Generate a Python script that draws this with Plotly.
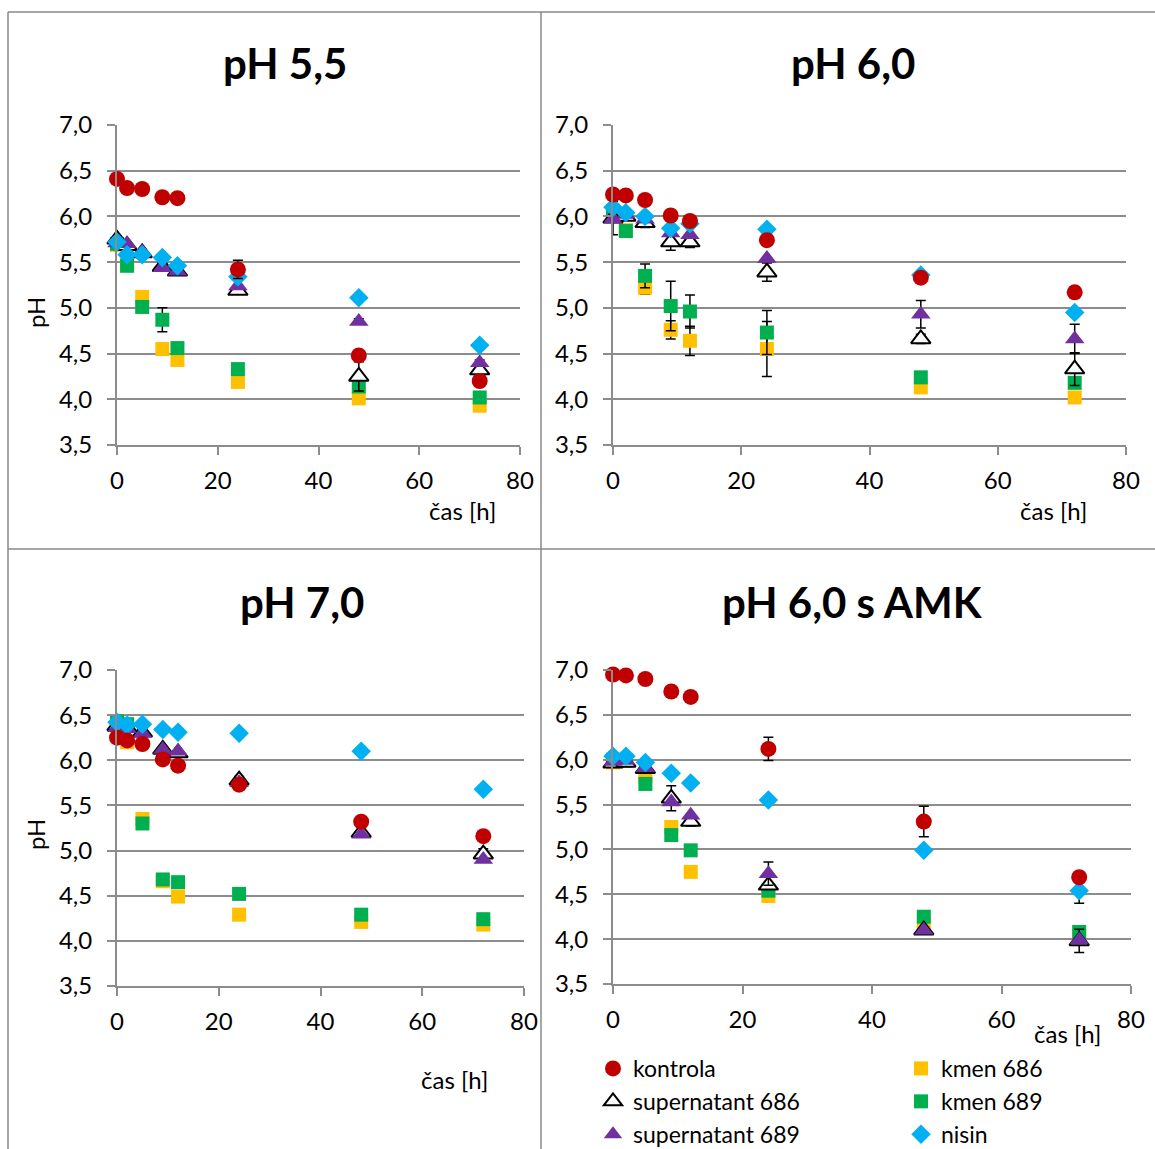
import plotly.graph_objects as go

W, H = 1155, 1149

time_h = [0, 2, 5, 9, 12, 24, 48, 72]

series_names = ["kontrola", "supernatant 686", "supernatant 689", "kmen 686", "kmen 689", "nisin"]
panel_titles = ["pH 5,5", "pH 6,0", "pH 7,0", "pH 6,0 s AMK"]
y_ticks = [3.5, 4.0, 4.5, 5.0, 5.5, 6.0, 6.5, 7.0]
x_ticks = [0, 20, 40, 60, 80]

# ---- pH 5,5 ----
p55_kontrola = [6.41, 6.31, 6.30, 6.21, 6.20, 5.42, 4.48, 4.20]
p55_sup686 = [5.75, 5.68, 5.60, 5.45, 5.40, 5.19, 4.25, 4.32]
p55_sup689 = [5.71, 5.70, 5.61, 5.44, 5.40, 5.24, 4.85, 4.40]
p55_kmen686 = [5.69, 5.50, 5.12, 4.55, 4.43, 4.19, 4.01, 3.93]
p55_kmen689 = [5.70, 5.46, 5.01, 4.87, 4.56, 4.33, 4.14, 4.02]
p55_nisin = [5.72, 5.58, 5.58, 5.55, 5.46, 5.34, 5.11, 4.59]
p55_kontrola_err = [0, 0, 0.04, 0, 0, 0.10, 0, 0.04]
p55_sup686_err = [0.04, 0, 0, 0.04, 0.04, 0.04, 0.16, 0.05]
p55_sup689_err = [0, 0, 0, 0, 0, 0, 0.03, 0.03]
p55_kmen686_err = [0, 0, 0, 0.04, 0, 0, 0, 0]
p55_kmen689_err = [0, 0, 0, 0.13, 0, 0, 0, 0]
p55_nisin_err = [0, 0, 0, 0, 0, 0, 0, 0]

# ---- pH 6,0 ----
p60_kontrola = [6.24, 6.23, 6.18, 6.01, 5.95, 5.74, 5.33, 5.17]
p60_sup686 = [5.98, 6.00, 5.93, 5.72, 5.72, 5.39, 4.66, 4.33]
p60_sup689 = [5.97, 6.02, 5.97, 5.82, 5.80, 5.54, 4.93, 4.66]
p60_kmen686 = [6.04, 5.85, 5.22, 4.76, 4.64, 4.55, 4.13, 4.02]
p60_kmen689 = [6.06, 5.84, 5.35, 5.02, 4.96, 4.73, 4.24, 4.18]
p60_nisin = [6.10, 6.04, 6.00, 5.87, 5.92, 5.86, 5.36, 4.95]
p60_kontrola_err = [0, 0, 0, 0, 0, 0, 0, 0.06]
p60_sup686_err = [0.18, 0, 0.05, 0.09, 0.06, 0.10, 0.05, 0.18]
p60_sup689_err = [0, 0, 0, 0, 0, 0, 0.15, 0.16]
p60_kmen686_err = [0, 0, 0.07, 0.10, 0.16, 0.30, 0, 0]
p60_kmen689_err = [0, 0.06, 0.13, 0.27, 0.18, 0.24, 0, 0]
p60_nisin_err = [0, 0, 0, 0, 0, 0, 0, 0]

# ---- pH 7,0 ----
p70_kontrola = [6.25, 6.22, 6.18, 6.01, 5.94, 5.73, 5.32, 5.16]
p70_sup686 = [6.38, 6.36, 6.31, 6.12, 6.08, 5.78, 5.20, 4.96]
p70_sup689 = [6.36, 6.35, 6.30, 6.12, 6.10, 5.75, 5.18, 4.90]
p70_kmen686 = [6.38, 6.20, 5.35, 4.66, 4.49, 4.29, 4.21, 4.18]
p70_kmen689 = [6.43, 6.40, 5.30, 4.68, 4.65, 4.52, 4.29, 4.24]
p70_nisin = [6.42, 6.39, 6.40, 6.34, 6.31, 6.30, 6.10, 5.68]
p70_kontrola_err = [0, 0, 0, 0, 0, 0, 0, 0.05]
p70_sup686_err = [0, 0, 0, 0, 0, 0.04, 0, 0.06]
p70_sup689_err = [0, 0, 0, 0, 0, 0, 0, 0]
p70_kmen686_err = [0, 0, 0, 0, 0, 0, 0, 0]
p70_kmen689_err = [0, 0, 0, 0.02, 0, 0, 0, 0]
p70_nisin_err = [0, 0, 0, 0, 0, 0, 0, 0]

# ---- pH 6,0 s AMK ----
amk_kontrola = [6.95, 6.94, 6.90, 6.76, 6.70, 6.12, 5.31, 4.69]
amk_sup686 = [5.96, 5.97, 5.90, 5.57, 5.31, 4.60, 4.10, 3.98]
amk_sup689 = [5.98, 5.99, 5.91, 5.53, 5.38, 4.73, 4.10, 3.99]
amk_kmen686 = [5.97, 5.99, 5.82, 5.25, 4.75, 4.48, 4.18, 4.05]
amk_kmen689 = [6.00, 5.99, 5.73, 5.16, 4.99, 4.54, 4.25, 4.08]
amk_nisin = [6.04, 6.04, 5.97, 5.85, 5.74, 5.55, 4.99, 4.54]
amk_kontrola_err = [0, 0, 0, 0, 0, 0.13, 0.17, 0.03]
amk_sup686_err = [0.02, 0, 0, 0.14, 0.05, 0, 0, 0.13]
amk_sup689_err = [0, 0, 0, 0, 0, 0.13, 0.03, 0]
amk_kmen686_err = [0, 0, 0, 0, 0, 0, 0, 0]
amk_kmen689_err = [0, 0, 0, 0, 0, 0, 0, 0]
amk_nisin_err = [0, 0, 0, 0, 0, 0.03, 0, 0.14]

panels = [
    {"kontrola": (p55_kontrola, p55_kontrola_err), "supernatant 686": (p55_sup686, p55_sup686_err),
     "supernatant 689": (p55_sup689, p55_sup689_err), "kmen 686": (p55_kmen686, p55_kmen686_err),
     "kmen 689": (p55_kmen689, p55_kmen689_err), "nisin": (p55_nisin, p55_nisin_err)},
    {"kontrola": (p60_kontrola, p60_kontrola_err), "supernatant 686": (p60_sup686, p60_sup686_err),
     "supernatant 689": (p60_sup689, p60_sup689_err), "kmen 686": (p60_kmen686, p60_kmen686_err),
     "kmen 689": (p60_kmen689, p60_kmen689_err), "nisin": (p60_nisin, p60_nisin_err)},
    {"kontrola": (p70_kontrola, p70_kontrola_err), "supernatant 686": (p70_sup686, p70_sup686_err),
     "supernatant 689": (p70_sup689, p70_sup689_err), "kmen 686": (p70_kmen686, p70_kmen686_err),
     "kmen 689": (p70_kmen689, p70_kmen689_err), "nisin": (p70_nisin, p70_nisin_err)},
    {"kontrola": (amk_kontrola, amk_kontrola_err), "supernatant 686": (amk_sup686, amk_sup686_err),
     "supernatant 689": (amk_sup689, amk_sup689_err), "kmen 686": (amk_kmen686, amk_kmen686_err),
     "kmen 689": (amk_kmen689, amk_kmen689_err), "nisin": (amk_nisin, amk_nisin_err)},
]

styles = {
    "kontrola": dict(symbol="circle", color="#C00000", size=16, line=dict(width=0)),
    "supernatant 686": dict(symbol="triangle-up", color="white", size=17, line=dict(color="black", width=2)),
    "supernatant 689": dict(symbol="triangle-up", color="#7030A0", size=17, line=dict(width=0)),
    "kmen 686": dict(symbol="square", color="#FFC000", size=14, line=dict(width=0)),
    "kmen 689": dict(symbol="square", color="#00B050", size=14, line=dict(width=0)),
    "nisin": dict(symbol="diamond", color="#00B0F0", size=15, line=dict(width=0)),
}
legend_of = {"kontrola": ("legend", 1), "supernatant 686": ("legend", 2), "supernatant 689": ("legend", 3),
             "kmen 686": ("legend2", 4), "kmen 689": ("legend2", 5), "nisin": ("legend2", 6)}
draw_order = ["kmen 686", "kmen 689", "supernatant 686", "supernatant 689", "nisin", "kontrola"]

# plot areas in pixels: (x0, x1, ytop, ybottom)
areas = [(117, 520, 125, 445), (613, 1126, 125, 445), (117, 524, 670, 986), (613, 1131, 670, 984)]

FONT = "Lato"
TXT = 24
fig = go.Figure()

for i, data in enumerate(panels):
    sfx = "" if i == 0 else str(i + 1)
    for name in draw_order:
        vals, err = data[name]
        st = styles[name]
        lg, rank = legend_of[name]
        fig.add_trace(go.Scatter(
            x=time_h, y=vals, mode="markers", name=name,
            xaxis="x" + sfx, yaxis="y" + sfx,
            marker=dict(symbol=st["symbol"], color=st["color"], size=st["size"], line=st["line"]),
            error_y=dict(type="data", array=err, visible=True, color="black", thickness=1.5, width=5),
            cliponaxis=False,
            showlegend=(i == 3), legend=lg, legendrank=rank,
        ))

grid_col = "#8c8c8c"
for i, (x0, x1, yt, yb) in enumerate(areas):
    sfx = "" if i == 0 else str(i + 1)
    fig.update_layout(**{
        "xaxis" + sfx: dict(
            domain=[x0 / W, x1 / W], anchor="y" + sfx, range=[0, 80], tickvals=x_ticks,
            showgrid=False, zeroline=False, showline=True, linecolor=grid_col, linewidth=2,
            ticks="outside", ticklen=8, tickwidth=2, tickcolor=grid_col,
            tickfont=dict(family=FONT, size=TXT, color="black"), ticklabelstandoff=5,
        ),
        "yaxis" + sfx: dict(
            domain=[1 - yb / H, 1 - yt / H], anchor="x" + sfx, range=[3.5, 7.0], tickvals=y_ticks,
            tickformat=".1f", showgrid=True, gridcolor=grid_col, gridwidth=2, zeroline=False,
            showline=True, linecolor=grid_col, linewidth=2,
            ticks="outside", ticklen=8, tickwidth=2, tickcolor=grid_col,
            tickfont=dict(family=FONT, size=TXT, color="black"), ticklabelstandoff=10,
        ),
    })

annotations = []
title_pos = [(285, 63), (853, 63), (302, 602), (853, 602)]
for t, (x, y) in zip(panel_titles, title_pos):
    annotations.append(dict(text="<b>%s</b>" % t, x=x / W, y=1 - y / H, xref="paper", yref="paper",
                            showarrow=False, xanchor="center", yanchor="middle",
                            font=dict(family=FONT, size=42, color="black")))
for (x, y) in [(462, 511), (1053, 510), (454, 1079), (1067, 1033)]:
    annotations.append(dict(text="čas [h]", x=x / W, y=1 - y / H, xref="paper", yref="paper",
                            showarrow=False, xanchor="center", yanchor="middle",
                            font=dict(family=FONT, size=TXT, color="black")))
for (x, y) in [(35, 313), (35, 835)]:
    annotations.append(dict(text="pH", x=x / W, y=1 - y / H, xref="paper", yref="paper", textangle=-90,
                            showarrow=False, xanchor="center", yanchor="middle",
                            font=dict(family=FONT, size=TXT, color="black")))

border = dict(color="#888888", width=1.5)
shapes = [
    dict(type="line", xref="paper", yref="paper", x0=8 / W, x1=1, y0=1 - 12 / H, y1=1 - 12 / H, line=border),
    dict(type="line", xref="paper", yref="paper", x0=8 / W, x1=8 / W, y0=0, y1=1 - 12 / H, line=border),
    dict(type="line", xref="paper", yref="paper", x0=541 / W, x1=541 / W, y0=0, y1=1 - 12 / H, line=border),
    dict(type="line", xref="paper", yref="paper", x0=8 / W, x1=1, y0=1 - 549 / H, y1=1 - 549 / H, line=border),
]

leg_common = dict(yanchor="top", xanchor="left", xref="container", yref="container",
                  bgcolor="rgba(0,0,0,0)", itemclick=False, itemdoubleclick=False,
                  font=dict(family=FONT, size=23, color="black"), orientation="v", tracegroupgap=0)
fig.update_layout(
    width=W, height=H, autosize=False,
    margin=dict(l=0, r=0, t=0, b=0, autoexpand=False),
    paper_bgcolor="white", plot_bgcolor="white",
    separators=", ",
    annotations=annotations, shapes=shapes,
    legend=dict(x=593 / W, y=1 - 1047 / H, **leg_common),
    legend2=dict(x=901 / W, y=1 - 1047 / H, **leg_common),
)

fig.write_html("out.html")
